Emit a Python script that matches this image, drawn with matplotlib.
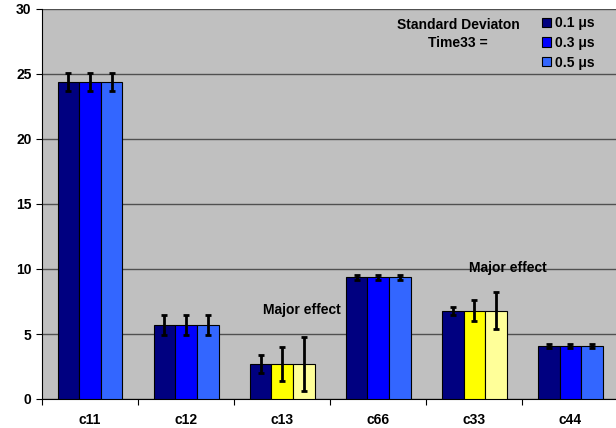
import numpy as np
import matplotlib.pyplot as plt

plt.rcParams['font.family'] = ['Liberation Sans', 'DejaVu Sans']
plt.rcParams['font.weight'] = 'bold'

# ---- data ----
cats = ['c11', 'c12', 'c13', 'c66', 'c33', 'c44']
series = ['0.1 \u03bcs', '0.3 \u03bcs', '0.5 \u03bcs']
v01 = [24.4, 5.7, 2.7, 9.35, 6.8, 4.05]
v03 = [24.4, 5.7, 2.7, 9.35, 6.8, 4.05]
v05 = [24.4, 5.7, 2.7, 9.35, 6.8, 4.05]
e01 = [0.7, 0.8, 0.7, 0.2, 0.3, 0.15]
e03 = [0.7, 0.8, 1.3, 0.2, 0.8, 0.15]
e05 = [0.7, 0.8, 2.1, 0.2, 1.4, 0.15]

# colours: blue for most, yellow where the "major effect" is
c_blue = ['#000080', '#0000FF', '#3366FF']
c_yel = ['#000080', '#FFFF00', '#FFFF99']
major = ['c13', 'c33']

fig = plt.figure(figsize=(6.16, 4.28), dpi=100)
ax = fig.add_axes([42/616, 29/428, 1 - 42/616 + 0.004, 390/428])
ax.set_facecolor('#C0C0C0')

x = np.arange(len(cats))
w = 0.225
vals = [v01, v03, v05]
errs = [e01, e03, e05]
for k in range(3):
    cols = [(c_yel if c in major else c_blue)[k] for c in cats]
    ax.bar(x + (k - 1) * w, vals[k], w, color=cols, edgecolor='black',
           linewidth=0.8, zorder=3, label=series[k])
    ax.errorbar(x + (k - 1) * w, vals[k], yerr=errs[k], fmt='none',
                ecolor='black', elinewidth=2, capsize=2.5, capthick=2, zorder=4)

ax.set_xlim(-0.5, len(cats) - 0.5)
ax.set_ylim(0, 30)
ax.set_yticks(range(0, 31, 5))
ax.yaxis.grid(True, color='#505050', linewidth=1)
ax.set_axisbelow(True)
ax.set_xticks(x)
ax.set_xticklabels(cats, fontsize=10, fontweight='bold')
ax.set_xticks(np.arange(-0.5, len(cats)), minor=True)
ax.tick_params(axis='x', which='major', length=0, pad=10)
ax.tick_params(axis='x', which='minor', length=4, width=0.8)
ax.tick_params(axis='y', labelsize=10, length=4, width=0.8)
for t in ax.get_yticklabels():
    t.set_fontweight('bold')

for s in ['top', 'right']:
    ax.spines[s].set_visible(False)
ax.spines['left'].set_color('black')
ax.spines['bottom'].set_color('black')

ax.text(2.21, 6.85, 'Major effect', ha='center', va='center', fontsize=10, fontweight='bold')
ax.text(4.35, 10.1, 'Major effect', ha='center', va='center', fontsize=10, fontweight='bold')
ax.text(3.83, 28.05, 'Standard Deviaton\nTime33 =', ha='center', va='center',
        fontsize=10, fontweight='bold', linespacing=1.35)

# legend shows the blue set
leg = ax.legend(loc='upper left', bbox_to_anchor=(0.868, 0.982), frameon=False,
                fontsize=10, handlelength=0.65, handleheight=0.65, handletextpad=0.25,
                labelspacing=0.42, borderpad=0, borderaxespad=0)
for h, c in zip(leg.legend_handles, c_blue):
    h.set_facecolor(c)
    h.set_edgecolor('black')

fig.savefig('out.png', dpi=100)
